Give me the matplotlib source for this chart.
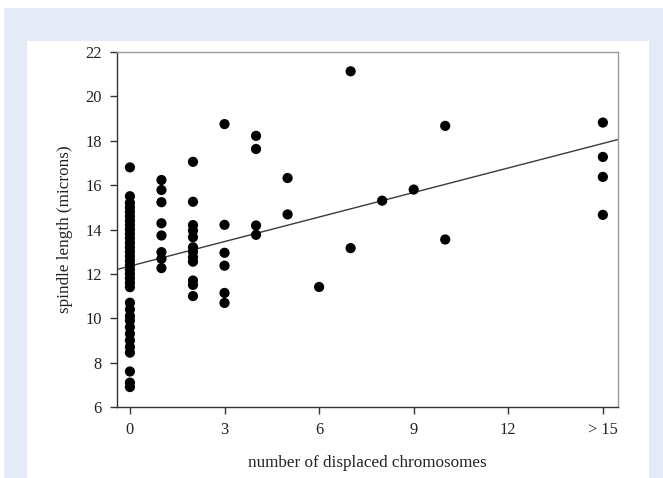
import numpy as np
import matplotlib
matplotlib.use("Agg")
import matplotlib.pyplot as plt
from matplotlib.patches import Rectangle

# spindle length (microns) per number of displaced chromosomes (15 = "> 15")
col_0 = [16.8, 15.5, 15.2, 15.0, 14.8, 14.6, 14.4, 14.2, 14.0, 13.8, 13.6, 13.4,
         13.2, 13.0, 12.8, 12.6, 12.4, 12.2, 12.0, 11.8, 11.6, 11.4,
         10.7, 10.4, 10.1, 9.9, 9.6, 9.3, 9.0, 8.7, 8.45, 7.6, 7.1, 6.9]
col_1 = [16.23, 15.78, 15.23, 14.28, 13.73, 12.98, 12.68, 12.26]
col_2 = [17.05, 15.25, 14.2, 13.95, 13.65, 13.2, 13.0, 12.75, 12.55, 11.7, 11.5, 11.0]
col_3 = [18.75, 14.21, 12.95, 12.37, 11.14, 10.69]
col_4 = [18.22, 17.63, 14.18, 13.76]
col_5 = [16.32, 14.68]
col_6 = [11.41]
col_7 = [21.13, 13.16]
col_8 = [15.3]
col_9 = [15.8]
col_10 = [18.67, 13.55]
col_15 = [18.82, 17.27, 16.37, 14.66]

counts = [0, 1, 2, 3, 4, 5, 6, 7, 8, 9, 10, 15]
lengths = [col_0, col_1, col_2, col_3, col_4, col_5, col_6, col_7,
           col_8, col_9, col_10, col_15]

# fitted regression line
fit_slope = 0.3686
fit_intercept = 12.35

xtick_pos = [0, 3, 6, 9, 12, 15]
xtick_labels = ["0", "3", "6", "9", "12", "> 15"]
ytick_pos = [6, 8, 10, 12, 14, 16, 18, 20, 22]

plt.rcParams["font.family"] = ["Liberation Serif", "DejaVu Serif"]

fig = plt.figure(figsize=(6.63, 4.78), dpi=100)
fig.patch.set_facecolor("white")
W, H = 663, 478
fig.patches.append(Rectangle((4 / W, 0), 1 - 4 / W, 1 - 8 / H,
                             transform=fig.transFigure, facecolor="#e4eaf6",
                             edgecolor="none", zorder=-2))
fig.patches.append(Rectangle((27 / W, 0), (649 - 27) / W, 1 - 41 / H,
                             transform=fig.transFigure, facecolor="white",
                             edgecolor="none", zorder=-1))

ax = fig.add_axes([117 / W, 1 - 407 / H, (618 - 117) / W, (407 - 52) / H])
ax.set_facecolor("white")

xs = np.concatenate([[c] * len(v) for c, v in zip(counts, lengths)])
ys = np.concatenate(lengths)
ax.scatter(xs, ys, s=54, color="black", edgecolors="none", zorder=3)

xlim = (-0.41, 15.48)
line_x = np.array(xlim)
ax.plot(line_x, fit_intercept + fit_slope * line_x, color="#3a3a3a", lw=1.0, zorder=2)

ax.set_xlim(*xlim)
ax.set_ylim(6, 22)
ax.set_xticks(xtick_pos)
ax.set_xticklabels(xtick_labels)
ax.set_yticks(ytick_pos)

for side in ["left", "bottom"]:
    ax.spines[side].set_color("#333333")
    ax.spines[side].set_linewidth(1.0)
for side in ["top", "right"]:
    ax.spines[side].set_color("#999999")
    ax.spines[side].set_linewidth(1.0)

ax.tick_params(axis="both", direction="out", length=5, width=1, color="#333333",
               labelsize=11.8, labelcolor="#222222", pad=6)

ax.set_xlabel("number of displaced chromosomes", fontsize=12.3, color="#222222", labelpad=12)
ax.set_ylabel("spindle length (microns)", fontsize=12.3, color="#222222", labelpad=9)

fig.savefig("out.png", dpi=100, facecolor=fig.get_facecolor())
